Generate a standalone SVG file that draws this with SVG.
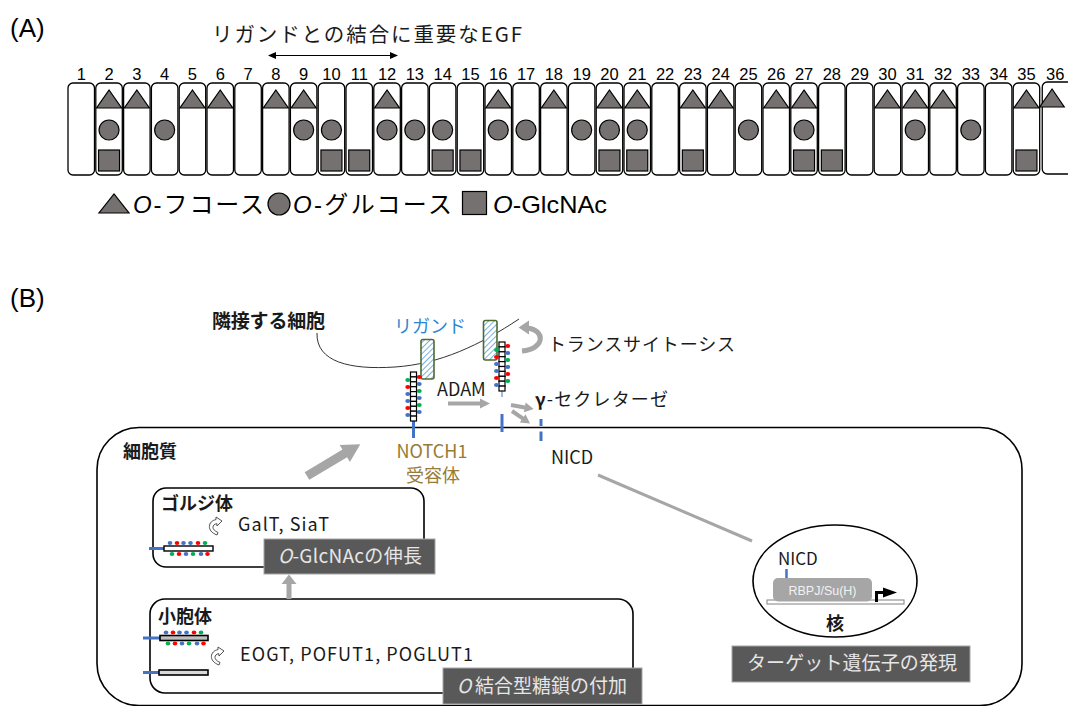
<svg xmlns="http://www.w3.org/2000/svg" xmlns:xlink="http://www.w3.org/1999/xlink" width="1068" height="706" viewBox="0 0 1068 706">
  <style>
    .jp { font-family: "Noto Sans CJK JP", "Liberation Sans", sans-serif; fill: #1a1a1a; }
    .lat { font-family: "Liberation Sans", "Noto Sans CJK JP", sans-serif; fill: #000; }
    .num { font-family: "Liberation Sans", sans-serif; font-size: 16.5px; text-anchor: middle; fill: #000; }
    .b { font-weight: 700; }
    .egfbox { fill: #fff; stroke: #000; stroke-width: 1.3; }
    .sugar { fill: #767171; stroke: #000; stroke-width: 1.2; }
    .mem { fill: #fff; stroke: #000; stroke-width: 1.6; }
    .organelle { fill: #fff; stroke: #000; stroke-width: 1.6; }
    .tag rect { fill: #595959; stroke: #a6a6a6; stroke-width: 1; }
    .tag text { font-family: "Noto Sans CJK JP", sans-serif; font-size: 19px; fill: #e6e6e6; }
    .grey { fill: #a6a6a6; }
    .stub { stroke: #4472c4; stroke-width: 3; fill: none; }
    .r { fill: #ff0000; } .bl { fill: #4472c4; } .g { fill: #00b050; }
    .chain { fill: #fff; stroke: #000; stroke-width: 1.2; }
    .lig { fill: url(#hatch); stroke: #4e6b2f; stroke-width: 1.6; }
  </style>
  <defs>
    <pattern id="hatch" width="4" height="4" patternUnits="userSpaceOnUse" patternTransform="rotate(45)">
      <rect width="4" height="4" fill="#fff"/>
      <line x1="0" y1="0" x2="0" y2="4" stroke="#5b9bd5" stroke-width="1.6"/>
    </pattern>
    <rect id="box" x="-13.25" y="83" width="26.5" height="92" rx="5" class="egfbox"/>
    <polygon id="tri" points="-12.5,108 12.5,108 0,90" class="sugar"/>
    <circle id="circ" cx="0" cy="130" r="10" class="sugar"/>
    <rect id="sq" x="-10.5" y="150" width="21" height="21" class="sugar"/>
    <!-- stacked repeat units of a NOTCH receptor -->
    <g id="stack">
      <rect x="0" y="0" width="6" height="4.9" class="chain"/>
      <rect x="0" y="4.9" width="6" height="4.9" class="chain"/>
      <rect x="0" y="9.8" width="6" height="4.9" class="chain"/>
      <rect x="0" y="14.7" width="6" height="4.9" class="chain"/>
      <rect x="0" y="19.6" width="6" height="4.9" class="chain"/>
      <rect x="0" y="24.5" width="6" height="4.9" class="chain"/>
      <rect x="0" y="29.4" width="6" height="4.9" class="chain"/>
      <rect x="0" y="34.3" width="6" height="4.9" class="chain"/>
      <rect x="0" y="39.2" width="6" height="4.9" class="chain"/>
      <rect x="0" y="44.1" width="6" height="4.9" class="chain"/>
    </g>
    <!-- small curved "enzyme acts" arrow -->
    <path id="turn" d="M9,0 L15,4 L10,9 L9.8,6.6 C5,7.5 4,12.5 11,15.5 L10,18 C-1,14 1,4 9,2.6 Z" fill="#fff" stroke="#404040" stroke-width="0.9"/>
  </defs>

  <rect width="1068" height="706" fill="#fff"/>

  <!-- ===== Panel A ===== -->
  <text x="10" y="37" class="lat" font-size="26">(A)</text>
  <g id="egf-region-label">
    <text x="212" y="42" class="jp" font-size="20.5" textLength="310" lengthAdjust="spacing">リガンドとの結合に重要なEGF</text>
    <line x1="273" y1="55.5" x2="393" y2="55.5" stroke="#000" stroke-width="1.2"/>
    <polygon points="268,55.5 276,52 276,59" fill="#000"/>
    <polygon points="398,55.5 390,52 390,59" fill="#000"/>
  </g>

  <g id="egf1" transform="translate(81.25,0)"><use href="#box"/><text class="num" y="80">1</text></g>
  <g id="egf2" transform="translate(109.05,0)"><use href="#box"/><use href="#tri"/><use href="#circ"/><use href="#sq"/><text class="num" y="80">2</text></g>
  <g id="egf3" transform="translate(136.85,0)"><use href="#box"/><use href="#tri"/><text class="num" y="80">3</text></g>
  <g id="egf4" transform="translate(164.65,0)"><use href="#box"/><use href="#circ"/><text class="num" y="80">4</text></g>
  <g id="egf5" transform="translate(192.45,0)"><use href="#box"/><use href="#tri"/><text class="num" y="80">5</text></g>
  <g id="egf6" transform="translate(220.25,0)"><use href="#box"/><use href="#tri"/><text class="num" y="80">6</text></g>
  <g id="egf7" transform="translate(248.05,0)"><use href="#box"/><text class="num" y="80">7</text></g>
  <g id="egf8" transform="translate(275.85,0)"><use href="#box"/><use href="#tri"/><text class="num" y="80">8</text></g>
  <g id="egf9" transform="translate(303.65,0)"><use href="#box"/><use href="#tri"/><use href="#circ"/><text class="num" y="80">9</text></g>
  <g id="egf10" transform="translate(331.45,0)"><use href="#box"/><use href="#circ"/><use href="#sq"/><text class="num" y="80">10</text></g>
  <g id="egf11" transform="translate(359.25,0)"><use href="#box"/><use href="#sq"/><text class="num" y="80">11</text></g>
  <g id="egf12" transform="translate(387.05,0)"><use href="#box"/><use href="#tri"/><use href="#circ"/><text class="num" y="80">12</text></g>
  <g id="egf13" transform="translate(414.85,0)"><use href="#box"/><use href="#circ"/><text class="num" y="80">13</text></g>
  <g id="egf14" transform="translate(442.65,0)"><use href="#box"/><use href="#circ"/><use href="#sq"/><text class="num" y="80">14</text></g>
  <g id="egf15" transform="translate(470.45,0)"><use href="#box"/><use href="#sq"/><text class="num" y="80">15</text></g>
  <g id="egf16" transform="translate(498.25,0)"><use href="#box"/><use href="#tri"/><use href="#circ"/><text class="num" y="80">16</text></g>
  <g id="egf17" transform="translate(526.05,0)"><use href="#box"/><use href="#circ"/><text class="num" y="80">17</text></g>
  <g id="egf18" transform="translate(553.85,0)"><use href="#box"/><use href="#tri"/><text class="num" y="80">18</text></g>
  <g id="egf19" transform="translate(581.65,0)"><use href="#box"/><use href="#circ"/><text class="num" y="80">19</text></g>
  <g id="egf20" transform="translate(609.45,0)"><use href="#box"/><use href="#tri"/><use href="#circ"/><use href="#sq"/><text class="num" y="80">20</text></g>
  <g id="egf21" transform="translate(637.25,0)"><use href="#box"/><use href="#tri"/><use href="#circ"/><use href="#sq"/><text class="num" y="80">21</text></g>
  <g id="egf22" transform="translate(665.05,0)"><use href="#box"/><text class="num" y="80">22</text></g>
  <g id="egf23" transform="translate(692.85,0)"><use href="#box"/><use href="#tri"/><use href="#sq"/><text class="num" y="80">23</text></g>
  <g id="egf24" transform="translate(720.65,0)"><use href="#box"/><use href="#tri"/><text class="num" y="80">24</text></g>
  <g id="egf25" transform="translate(748.45,0)"><use href="#box"/><use href="#circ"/><text class="num" y="80">25</text></g>
  <g id="egf26" transform="translate(776.25,0)"><use href="#box"/><use href="#tri"/><text class="num" y="80">26</text></g>
  <g id="egf27" transform="translate(804.05,0)"><use href="#box"/><use href="#tri"/><use href="#circ"/><use href="#sq"/><text class="num" y="80">27</text></g>
  <g id="egf28" transform="translate(831.85,0)"><use href="#box"/><use href="#sq"/><text class="num" y="80">28</text></g>
  <g id="egf29" transform="translate(859.65,0)"><use href="#box"/><text class="num" y="80">29</text></g>
  <g id="egf30" transform="translate(887.45,0)"><use href="#box"/><use href="#tri"/><text class="num" y="80">30</text></g>
  <g id="egf31" transform="translate(915.25,0)"><use href="#box"/><use href="#tri"/><use href="#circ"/><text class="num" y="80">31</text></g>
  <g id="egf32" transform="translate(943.05,0)"><use href="#box"/><use href="#tri"/><text class="num" y="80">32</text></g>
  <g id="egf33" transform="translate(970.85,0)"><use href="#box"/><use href="#circ"/><text class="num" y="80">33</text></g>
  <g id="egf34" transform="translate(998.65,0)"><use href="#box"/><text class="num" y="80">34</text></g>
  <g id="egf35" transform="translate(1026.45,0)"><use href="#box"/><use href="#tri"/><use href="#sq"/><text class="num" y="80">35</text></g>
  <g id="egf36" transform="translate(1054.25,0)">
    <rect x="-12" y="82" width="30" height="92" rx="5" class="egfbox"/>
    <polygon points="-14.5,107 10,107 -2.2,89" class="sugar"/>
    <text class="num" x="1" y="80">36</text>
  </g>

  <g id="legend">
    <polygon points="99,213 129,213 114,194" class="sugar"/>
    <text x="133" y="213" class="lat" font-size="24" textLength="131" lengthAdjust="spacing"><tspan font-style="italic">O</tspan>-フコース</text>
    <circle cx="279" cy="204" r="11" class="sugar"/>
    <text x="293" y="213" class="lat" font-size="24" textLength="159" lengthAdjust="spacing"><tspan font-style="italic">O</tspan>-グルコース</text>
    <rect x="462.5" y="191.5" width="24" height="23" class="sugar"/>
    <text x="493" y="213" class="lat" font-size="24" textLength="114" lengthAdjust="spacingAndGlyphs"><tspan font-style="italic">O</tspan>-GlcNAc</text>
  </g>

  <!-- ===== Panel B ===== -->
  <text x="10" y="307" class="lat" font-size="26">(B)</text>

  <!-- cell outline: its top edge is the plasma membrane -->
  <g id="cell">
    <rect x="97" y="427.5" width="925" height="278" rx="42" class="mem"/>
    <text x="123" y="458" class="jp b" font-size="18">細胞質</text>
  </g>

  <!-- neighbouring cell membrane -->
  <g id="neighbor-cell">
    <path d="M317,333 C316,362 350,370 395,367 C440,364 480,345 519,319" fill="none" stroke="#333" stroke-width="1"/>
    <text x="212" y="328" class="jp b" font-size="19" textLength="113" lengthAdjust="spacing">隣接する細胞</text>
  </g>

  <g id="ligand">
    <text x="394" y="333" class="jp" font-size="18" style="fill:#2e86d2">リガンド</text>
    <rect x="421" y="339.5" width="13" height="39.5" rx="2" class="lig"/>
    <rect x="483.5" y="320.5" width="13.5" height="39.5" rx="2" class="lig"/>
  </g>

  <g id="notch1-receptor">
    <line x1="413.5" y1="421" x2="413.5" y2="438" class="stub"/>
    <use href="#stack" x="410.5" y="372"/>
    <ellipse cx="407.8" cy="380" rx="2.5" ry="2" class="g"/>
    <ellipse cx="407.8" cy="387" rx="2.5" ry="2" class="r"/>
    <ellipse cx="407.8" cy="394" rx="2.5" ry="2" class="bl"/>
    <ellipse cx="407.8" cy="401" rx="2.5" ry="2" class="bl"/>
    <ellipse cx="407.8" cy="408" rx="2.5" ry="2" class="r"/>
    <ellipse cx="407.8" cy="415" rx="2.5" ry="2" class="bl"/>
    <ellipse cx="419.2" cy="377" rx="2.5" ry="2" class="r"/>
    <ellipse cx="419.2" cy="384" rx="2.5" ry="2" class="bl"/>
    <ellipse cx="419.2" cy="391" rx="2.5" ry="2" class="g"/>
    <ellipse cx="419.2" cy="398" rx="2.5" ry="2" class="bl"/>
    <ellipse cx="419.2" cy="405" rx="2.5" ry="2" class="g"/>
    <ellipse cx="419.2" cy="412" rx="2.5" ry="2" class="bl"/>
    <text x="432" y="458" class="jp" font-size="18" text-anchor="middle" style="fill:#987b35">NOTCH1</text>
    <text x="433" y="482" class="jp" font-size="18" text-anchor="middle" style="fill:#987b35">受容体</text>
  </g>

  <g id="cleaved-ecd">
    <line x1="502" y1="390" x2="502" y2="397" stroke="#4472c4" stroke-width="1"/>
    <use href="#stack" x="499" y="342"/>
    <ellipse cx="496.5" cy="350" rx="2.5" ry="2" class="g"/>
    <ellipse cx="496.5" cy="357" rx="2.5" ry="2" class="r"/>
    <ellipse cx="496.5" cy="364" rx="2.5" ry="2" class="bl"/>
    <ellipse cx="496.5" cy="371" rx="2.5" ry="2" class="bl"/>
    <ellipse cx="496.5" cy="378" rx="2.5" ry="2" class="r"/>
    <ellipse cx="496.5" cy="385" rx="2.5" ry="2" class="bl"/>
    <ellipse cx="507.7" cy="346" rx="2.5" ry="2" class="r"/>
    <ellipse cx="507.7" cy="353" rx="2.5" ry="2" class="bl"/>
    <ellipse cx="507.7" cy="360" rx="2.5" ry="2" class="g"/>
    <ellipse cx="507.7" cy="367" rx="2.5" ry="2" class="bl"/>
    <ellipse cx="507.7" cy="374" rx="2.5" ry="2" class="r"/>
    <ellipse cx="507.7" cy="381" rx="2.5" ry="2" class="g"/>
  </g>

  <g id="membrane-fragments">
    <line x1="502" y1="414" x2="502" y2="432" class="stub"/>
    <line x1="541" y1="419" x2="541" y2="426" class="stub"/>
    <line x1="541" y1="431.5" x2="541" y2="441" class="stub"/>
  </g>

  <g id="enzymes">
    <text x="437" y="396" class="jp" font-size="18">ADAM</text>
    <text x="535" y="406" class="jp" font-size="18" textLength="133" lengthAdjust="spacing"><tspan font-weight="700">γ</tspan>-セクレターゼ</text>
    <text x="548" y="351" class="jp" font-size="18" textLength="187" lengthAdjust="spacing">トランスサイトーシス</text>
    <text x="551" y="464" class="jp" font-size="18">NICD</text>
  </g>

  <g id="golgi">
    <rect x="153" y="488" width="271" height="79" rx="13" class="organelle"/>
    <text x="161" y="510" class="jp b" font-size="18">ゴルジ体</text>
    <use href="#turn" x="207" y="517"/>
    <text x="238" y="531" class="jp" font-size="18" textLength="91" lengthAdjust="spacing">GalT, SiaT</text>
    <line x1="149" y1="548.5" x2="164" y2="548.5" class="stub"/>
    <rect x="164" y="546" width="49" height="5" fill="#fff" stroke="#000" stroke-width="1.4"/>
    <ellipse cx="170" cy="543" rx="2.3" ry="2" class="bl"/>
    <ellipse cx="177" cy="543" rx="2.3" ry="2" class="r"/>
    <ellipse cx="183.5" cy="543" rx="2.3" ry="2" class="bl"/>
    <ellipse cx="190.5" cy="543" rx="2.3" ry="2" class="bl"/>
    <ellipse cx="198" cy="543" rx="2.3" ry="2" class="r"/>
    <ellipse cx="205" cy="543" rx="2.3" ry="2" class="g"/>
    <ellipse cx="172" cy="554" rx="2.3" ry="2" class="g"/>
    <ellipse cx="179" cy="554" rx="2.3" ry="2" class="r"/>
    <ellipse cx="186" cy="554" rx="2.3" ry="2" class="bl"/>
    <ellipse cx="193" cy="554" rx="2.3" ry="2" class="g"/>
    <ellipse cx="201" cy="554" rx="2.3" ry="2" class="bl"/>
    <ellipse cx="207.5" cy="554" rx="2.3" ry="2" class="r"/>
    <g class="tag">
      <rect x="264" y="539" width="171" height="35"/>
      <text x="278" y="563" textLength="144" lengthAdjust="spacing"><tspan font-style="italic">O</tspan>-GlcNAcの伸長</text>
    </g>
  </g>

  <g id="er">
    <rect x="150" y="599" width="483" height="94" rx="15" class="organelle"/>
    <text x="158" y="623" class="jp b" font-size="18">小胞体</text>
    <line x1="143" y1="638" x2="160" y2="638" class="stub"/>
    <rect x="160" y="635.5" width="48" height="5" fill="#bfbfbf" stroke="#000" stroke-width="1.6"/>
    <ellipse cx="166" cy="632.5" rx="2.3" ry="2" class="bl"/>
    <ellipse cx="173" cy="632.5" rx="2.3" ry="2" class="r"/>
    <ellipse cx="179.5" cy="632.5" rx="2.3" ry="2" class="bl"/>
    <ellipse cx="186.5" cy="632.5" rx="2.3" ry="2" class="bl"/>
    <ellipse cx="194" cy="632.5" rx="2.3" ry="2" class="r"/>
    <ellipse cx="201" cy="632.5" rx="2.3" ry="2" class="g"/>
    <ellipse cx="168" cy="643.5" rx="2.3" ry="2" class="g"/>
    <ellipse cx="175" cy="643.5" rx="2.3" ry="2" class="r"/>
    <ellipse cx="182" cy="643.5" rx="2.3" ry="2" class="bl"/>
    <ellipse cx="189" cy="643.5" rx="2.3" ry="2" class="g"/>
    <ellipse cx="197" cy="643.5" rx="2.3" ry="2" class="bl"/>
    <ellipse cx="203.5" cy="643.5" rx="2.3" ry="2" class="r"/>
    <line x1="143" y1="672.5" x2="159" y2="672.5" class="stub"/>
    <rect x="159" y="670" width="49" height="5" fill="#d9d9d9" stroke="#000" stroke-width="1.6"/>
    <use href="#turn" x="209" y="647"/>
    <text x="240" y="661" class="jp" font-size="18" textLength="233" lengthAdjust="spacing">EOGT, POFUT1, POGLUT1</text>
    <g class="tag">
      <rect x="443" y="668" width="199" height="36"/>
      <text x="457" y="693" textLength="170" lengthAdjust="spacing"><tspan font-style="italic">O</tspan><tspan dx="4">結合型糖鎖の付加</tspan></text>
    </g>
  </g>

  <g id="nucleus">
    <ellipse cx="835" cy="581" rx="82" ry="56" fill="#fff" stroke="#000" stroke-width="1.6"/>
    <text x="778" y="565" class="jp" font-size="17">NICD</text>
    <line x1="786.5" y1="569" x2="786.5" y2="578" stroke="#4472c4" stroke-width="2.5"/>
    <rect x="767" y="600" width="137" height="4" fill="#fff" stroke="#808080" stroke-width="1"/>
    <rect x="773" y="578" width="99" height="23.5" rx="5" fill="#a6a6a6"/>
    <text x="822.5" y="595" font-family="Liberation Sans, sans-serif" font-size="12.5" text-anchor="middle" fill="#f2f2f2">RBPJ/Su(H)</text>
    <path d="M876.5,602 V592.5 H884" fill="none" stroke="#000" stroke-width="3"/>
    <polygon points="883,587.5 897,592.5 883,597.5" fill="#000"/>
    <text x="835" y="630" class="jp b" font-size="18" text-anchor="middle">核</text>
    <g class="tag">
      <rect x="732" y="646" width="238" height="36"/>
      <text x="747" y="670" textLength="210" lengthAdjust="spacing">ターゲット遺伝子の発現</text>
    </g>
  </g>

  <!-- connectors -->
  <g id="connectors" class="grey">
    <!-- ER to Golgi -->
    <rect x="286.5" y="582" width="5" height="17"/>
    <polygon points="281.5,584 289,574.5 296.5,584"/>
    <!-- Golgi to membrane -->
    <g transform="translate(307,476) rotate(-30.8)">
      <polygon points="0,-4.5 44,-4.5 44,-10 62,0 44,10 44,4.5 0,4.5"/>
    </g>
    <!-- ADAM cleavage -->
    <g transform="translate(448,403.5)">
      <polygon points="0,-2 32,-2 32,-5 42,0 32,5 32,2 0,2"/>
    </g>
    <!-- gamma-secretase cleavage -->
    <g transform="translate(511,405) rotate(10)">
      <polygon points="0,-2 14,-2 14,-5 23,0 14,5 14,2 0,2"/>
    </g>
    <g transform="translate(512,411) rotate(35)">
      <polygon points="0,-2 13,-2 13,-5 22,0 13,5 13,2 0,2"/>
    </g>
    <!-- transcytosis -->
    <path d="M527,328 C546,330 545,349 522,351" fill="none" stroke="#a6a6a6" stroke-width="5"/>
    <polygon points="518.5,327.5 529,320.5 529,334.5"/>
    <!-- NICD to nucleus -->
    <line x1="598" y1="475" x2="752" y2="541" stroke="#a6a6a6" stroke-width="3"/>
  </g>
</svg>
